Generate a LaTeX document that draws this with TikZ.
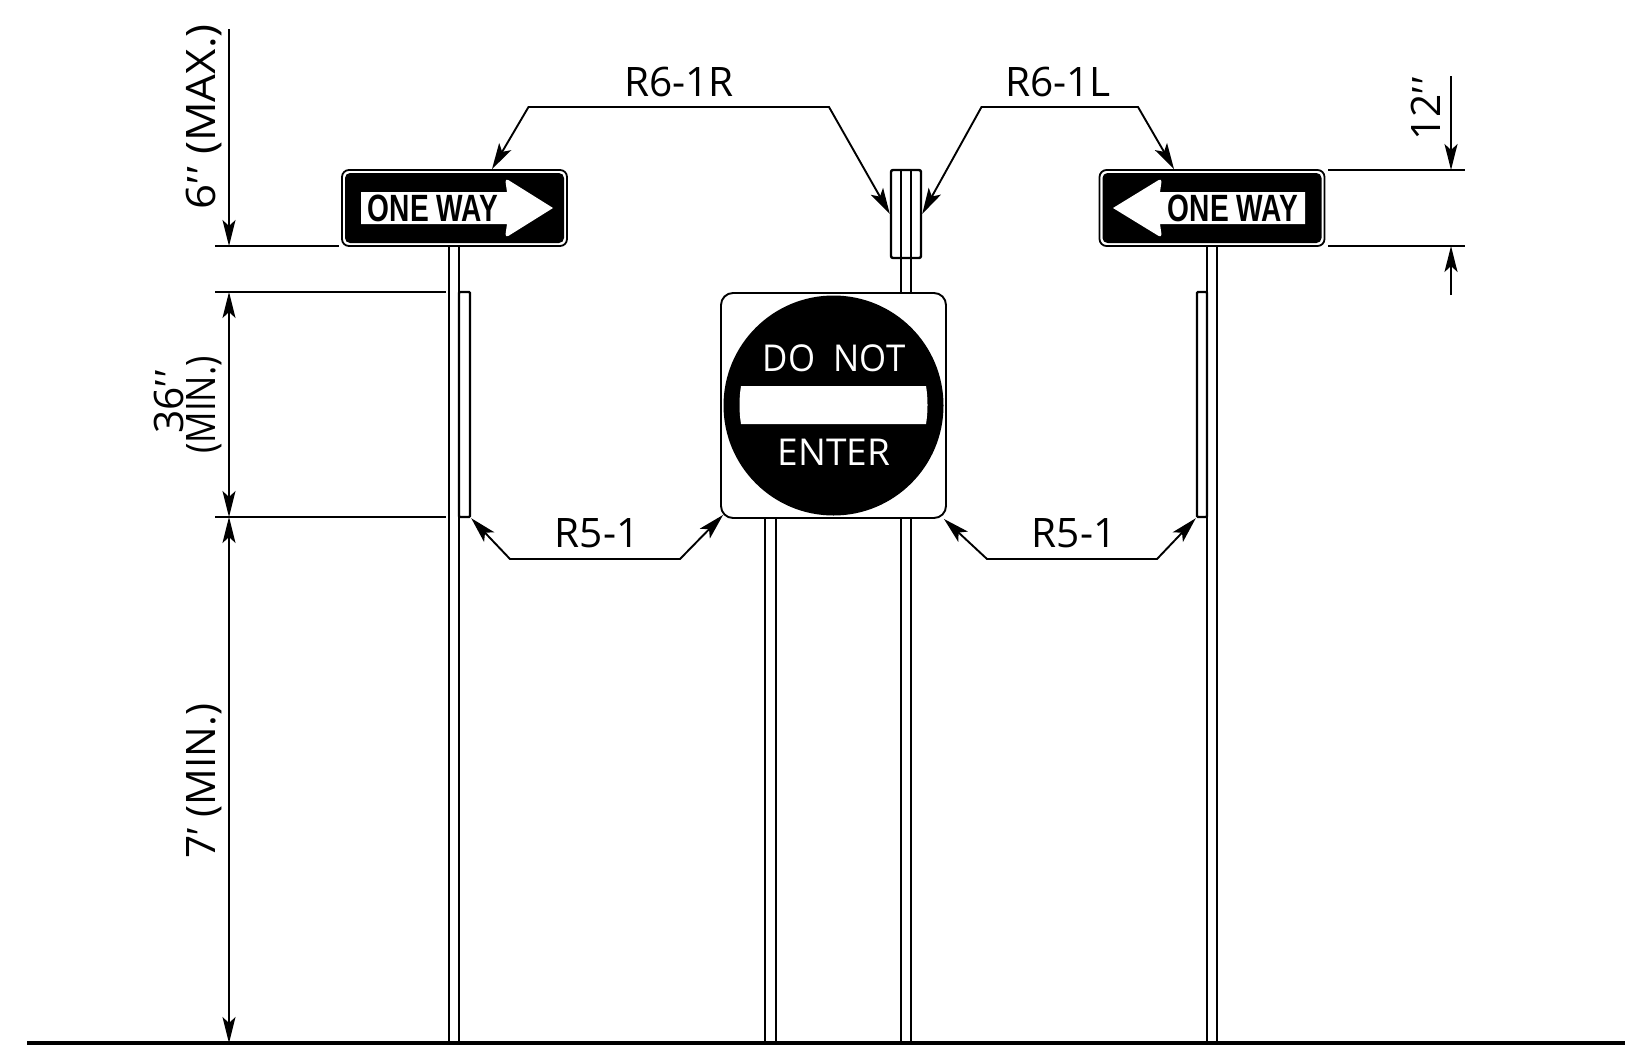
\documentclass[tikz,border=0pt]{standalone}
\usepackage{fontspec}
\setmainfont{Open Sans}
\newfontfamily\primefont{Liberation Sans}
\newfontfamily\wayfont[FakeStretch=0.74]{Liberation Sans Bold}
\usepackage{tikz}
\usetikzlibrary{positioning}
\usetikzlibrary{arrows.meta}
\usetikzlibrary{calc}
\newcommand{\inchmark}{{\primefont\char"2032\kern1pt\char"2032}}
\newcommand{\footmark}{{\primefont\char"2032}}
\tikzset{
	post/.style={line width=1.35pt},
	thinline/.style={line width=.95pt},
	leader/.style={line width=.95pt,<->,>={Stealth[length=13pt,width=7pt,inset=3pt]}},
	dimline/.style={line width=.95pt,>={Stealth[length=13pt,width=6.5pt,inset=3pt]}},
	oneway outer/.style={rectangle,draw,line width=.9pt,fill=white,rounded corners=3.5pt,minimum width=112.5pt,minimum height=38pt,inner sep=0pt},
	oneway face/.style={rectangle,fill=black,rounded corners=2.5pt,minimum width=109.5pt,minimum height=35pt,inner sep=0pt},
	way text/.style={font=\wayfont\fontsize{19}{19}\selectfont,inner sep=0pt},
	plate node/.style={rectangle,draw,line width=1.2pt,fill=white,inner sep=0pt},
	enter node/.style={rectangle,draw,line width=.95pt,fill=white,rounded corners=6pt,minimum size=112.5pt,inner sep=0pt},
	disc node/.style={circle,fill=black,minimum size=110pt,inner sep=0pt},
	enter text/.style={font=\fontsize{18.5}{18.5}\selectfont,text=white,inner sep=0pt},
	tag text/.style={font=\fontsize{20.3}{20.3}\selectfont,inner sep=0pt},
	dim text/.style={font=\fontsize{20.3}{20.3}\selectfont,inner sep=0pt,rotate=90,transform shape}
}
\begin{document}
\begin{tikzpicture}[x=.5pt,y=-.5pt]
	\useasboundingbox (0,0) rectangle (1625,1060);
	\coordinate (dimTop) at (229,29);
	\coordinate (dimA) at (229,246);
	\coordinate (dimB) at (229,292);
	\coordinate (dimC) at (229,517);
	\coordinate (dimD) at (229,1043);
	\coordinate (twelveTop) at (1451,76);
	\coordinate (twelveA) at (1451,170);
	\coordinate (twelveB) at (1451,246);
	\coordinate (twelveEnd) at (1451,295);

	% ground and posts
	\draw[line width=1.7pt] (27,1043) -- (1625,1043);
	\draw[post] (449,240) -- (449,1043);
	\draw[post] (459,240) -- (459,1043);
	\draw[post] (765,500) -- (765,1043);
	\draw[post] (776,500) -- (776,1043);
	\draw[post] (1207,240) -- (1207,1043);
	\draw[post] (1217,240) -- (1217,1043);

	% back of the R6-1 signs
	\node[plate node,minimum width=15pt,minimum height=44pt,rounded corners=1pt] (backR) at (906,214) {};
	\draw[post] (901,170) -- (901,1043);
	\draw[post] (911,170) -- (911,1043);

	% plates behind the R5-1 signs
	\node[plate node,minimum width=5.5pt,minimum height=112.5pt,rounded corners=.5pt] (plateL) at (464.5,404.5) {};
	\node[plate node,minimum width=5pt,minimum height=112.5pt,rounded corners=.5pt] (plateR) at (1202,404.5) {};

	% one way signs
	\node[oneway outer] (oneL) at (454.5,208) {};
	\node[oneway face] at (oneL) {};
	\fill[white] (361,192) -- (507,192) [rounded corners=2pt] -- (505,178) [sharp corners] -- (553,208) [rounded corners=2pt] -- (505,238) [sharp corners] -- (507,224) -- (361,224) -- cycle;
	\node[way text] (wayL) at (433,208.5) {ONE WAY};
	\node[oneway outer] (oneR) at (1212,208) {};
	\node[oneway face] at (oneR) {};
	\fill[white] (1305,192) -- (1160,192) [rounded corners=2pt] -- (1162,178) [sharp corners] -- (1113,208) [rounded corners=2pt] -- (1162,238) [sharp corners] -- (1160,224) -- (1305,224) -- cycle;
	\node[way text] (wayR) at (1233,208.5) {ONE WAY};

	% do not enter
	\node[enter node] (enter) at (833.5,405.5) {};
	\node[disc node] (disc) at (enter) {};
	\fill[white] (741,386) -- (926,386) .. controls (928,398) and (928,412) .. (926,424) -- (741,424) .. controls (739,412) and (739,398) .. (741,386) -- cycle;
	\node[enter text,xscale=.94,transform shape] (doNot) at (834,358) {DO\hspace{5pt} NOT};
	\node[enter text,below=33.5pt of doNot] (enterWord) {ENTER};

	% tags
	\node[tag text] (tagIR) at (679,82) {R6-1R};
	\node[tag text] (tagIL) at (1058,82) {R6-1L};
	\node[tag text] (tagL) at (597,533) {R5-1};
	\node[tag text] (tagR) at (1074,533) {R5-1};

	\draw[leader] ([xshift=18.75pt]oneL.north) -- (528.5,107) -- (829,107) -- (backR.west);
	\draw[leader] (backR.east) -- (981.5,107) -- (1138,107) -- ([xshift=-19pt]oneR.north);
	\draw[leader] (plateL.south east) -- (510,559) -- (680,559) -- ([shift={(1.5pt,2pt)}]enter.south west);
	\draw[leader] ([shift={(-1.5pt,0pt)}]enter.south east) -- (987,559) -- (1157,559) -- (plateR.south west);

	% dimensions
	\draw[thinline] (215,246) -- (339,246);
	\draw[thinline] (215,292) -- (446,292);
	\draw[thinline] (215,517) -- (446,517);
	\draw[thinline] (1328,170) -- (1465,170);
	\draw[thinline] (1328,246) -- (1465,246);
	\draw[dimline,->] (dimTop) -- (dimA);
	\draw[dimline,<->] (dimB) -- (dimC);
	\draw[dimline,<->] (dimC) -- (dimD);
	\draw[dimline,->] (twelveTop) -- (twelveA);
	\draw[dimline,->] (twelveEnd) -- (twelveB);

	\node[dim text,xscale=1.08] (dimMax) at (204,117) {6\inchmark\ (MAX.)};
	\node[dim text] (dimThree) at (169,402) {36\inchmark};
	\node[dim text,xscale=.86] (dimMinA) at (204,405) {(MIN.)};
	\node[dim text] (dimSeven) at (204,781) {7\footmark\ (MIN.)};
	\node[dim text] (dimTwelve) at (1426,109) {12\inchmark};
\end{tikzpicture}
\end{document}
